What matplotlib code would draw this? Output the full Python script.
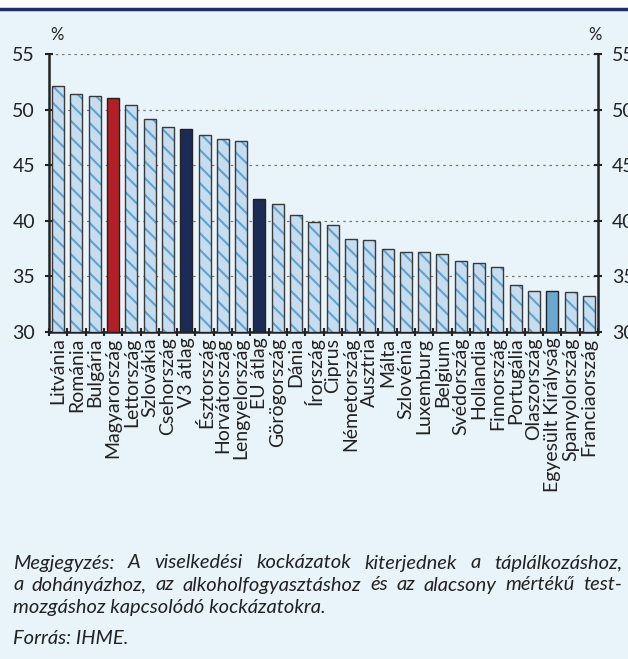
import numpy as np
import matplotlib.pyplot as plt
from matplotlib.patches import Rectangle
from matplotlib.lines import Line2D

plt.rcParams['font.family'] = ['Lato', 'DejaVu Sans']
plt.rcParams['hatch.linewidth'] = 1.5

countries = ['Litvánia', 'Románia', 'Bulgária', 'Magyarország', 'Lettország',
             'Szlovákia', 'Csehország', 'V3 átlag', 'Észtország', 'Horvátország',
             'Lengyelország', 'EU átlag', 'Görögország', 'Dánia', 'Írország',
             'Ciprus', 'Németország', 'Ausztria', 'Málta', 'Szlovénia',
             'Luxemburg', 'Belgium', 'Svédország', 'Hollandia', 'Finnország',
             'Portugália', 'Olaszország', 'Egyesült Királyság', 'Spanyolország',
             'Franciaország']
values = [52.1, 51.4, 51.2, 51.0, 50.4, 49.15, 48.4, 48.3, 47.7, 47.4,
          47.15, 42.0, 41.5, 40.55, 39.9, 39.6, 38.4, 38.3, 37.5, 37.2,
          37.15, 37.0, 36.35, 36.2, 35.85, 34.2, 33.7, 33.7, 33.6, 33.25]
highlight = {'Magyarország': '#b22026', 'V3 átlag': '#1b2b55',
             'EU átlag': '#1b2b55', 'Egyesült Királyság': '#6aa7d1'}
yticks = [30, 35, 40, 45, 50, 55]

note_lines = ['Megjegyzés: A viselkedési kockázatok kiterjednek a táplálkozáshoz,',
              'a dohányázhoz, az alkoholfogyasztáshoz és az alacsony mértékű test-',
              'mozgáshoz kapcsolódó kockázatokra.']
source = 'Forrás: IHME.'

bg = '#e9f3fa'
fig = plt.figure(figsize=(6.28, 6.59), dpi=100, facecolor=bg)
W, H = 628, 659
ax = fig.add_axes([49 / W, 1 - 332 / H, 549 / W, 278 / H])
ax.set_facecolor(bg)

x = np.arange(len(countries))
base = 30
heights = [v - base for v in values]
for xi, c, h in zip(x, countries, heights):
    if c in highlight:
        ax.bar(xi, h, bottom=base, width=0.66, color=highlight[c],
               edgecolor='#222222', linewidth=1.0, zorder=3)
    else:
        ax.bar(xi, h, bottom=base, width=0.66, color='#c6dcef',
               edgecolor='#5ea3d3', hatch='\\\\', linewidth=0, zorder=3)
        ax.bar(xi, h, bottom=base, width=0.66, fill=False,
               edgecolor='#3a3a3a', linewidth=1.0, zorder=4)

ax.set_xlim(-0.5, len(countries) - 0.5)
ax.set_ylim(30, 55)
ax.set_yticks(yticks)
ax.yaxis.grid(True, linestyle=(0, (2, 3)), color='#777777', linewidth=0.9)
ax.set_axisbelow(True)

ax.set_xticks(x)
ax.set_xticklabels(countries, rotation=90, fontsize=14, color='#222222')
ax.set_xticks(np.arange(len(countries) + 1) - 0.5, minor=True)
ax.tick_params(axis='x', which='major', length=0, pad=4)
ax.tick_params(axis='x', which='minor', length=6, width=1.5, direction='inout',
               color='#222222')

ax.tick_params(axis='y', labelsize=14, length=6, width=1.5, direction='inout',
               color='#222222', labelcolor='#222222', right=True, labelright=True,
               pad=7)

ax.spines['top'].set_visible(False)
for s in ['left', 'right', 'bottom']:
    ax.spines[s].set_linewidth(1.8)
    ax.spines[s].set_color('#222222')

fig.text(57 / W, 1 - 35 / H, '%', fontsize=12, ha='center', va='center',
         color='#222222')
fig.text(595 / W, 1 - 35 / H, '%', fontsize=12, ha='center', va='center',
         color='#222222')

# top strip and rule
fig.add_artist(Rectangle((0, 1 - 8 / H), 1, 8 / H, transform=fig.transFigure,
                         facecolor='white', edgecolor='none'))
fig.add_artist(Line2D([0, 1], [1 - 9 / H, 1 - 9 / H], transform=fig.transFigure,
                      color='#1f2d6b', linewidth=2.5))

# note, first two lines justified
renderer = fig.canvas.get_renderer()
x0, x1 = 13, 622
fs = 14.5
ys = [563, 585, 607]
for k, (line, yy) in enumerate(zip(note_lines, ys)):
    if k < 2:
        words = line.split(' ')
        texts = [fig.text(0, 1 - yy / H, w, fontsize=fs, style='italic',
                          color='#222222', va='center', ha='left') for w in words]
        widths = [t.get_window_extent(renderer).width for t in texts]
        gap = (x1 - x0 - sum(widths)) / (len(words) - 1)
        pos = x0
        for t, wd in zip(texts, widths):
            t.set_x(pos / W)
            pos += wd + gap
    else:
        fig.text(x0 / W, 1 - yy / H, line, fontsize=fs, style='italic',
                 color='#222222', va='center', ha='left')
fig.text(x0 / W, 1 - 639 / H, source, fontsize=fs, style='italic',
         color='#222222', va='center', ha='left')

fig.savefig('out.png', dpi=100, facecolor=bg)
